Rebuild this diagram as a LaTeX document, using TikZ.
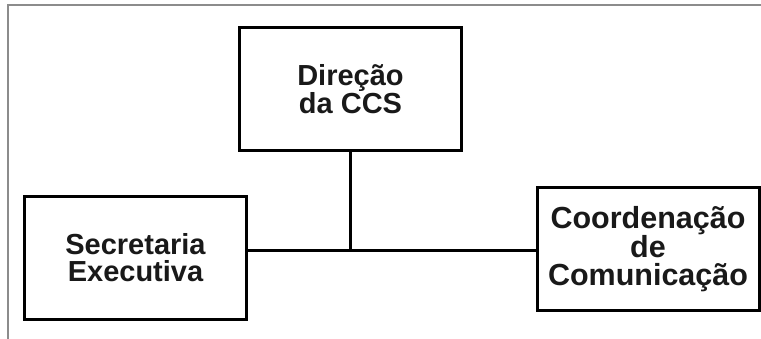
\documentclass[tikz,border=0pt]{standalone}
\usepackage{fontspec}
\setmainfont{Liberation Sans}
\usepackage{tikz}
\usetikzlibrary{positioning}

\begin{document}
\begin{tikzpicture}
		[x=1pt, y=1pt,
		unit/.style={rectangle, draw=black, line width=3pt, minimum width=222pt, minimum height=123pt,
			align=center, inner sep=0pt, text=black!90, font=\bfseries\fontsize{29}{27}\selectfont},
		link/.style={draw=black, line width=3pt},
		frame/.style={draw=black!45, line width=1.2pt}]
		\useasboundingbox (0,0) rectangle (761,339);
		\draw[frame] (8,0) -- (8,334) -- (761,334);

		\node[unit] (direcao) at (350.5,249.5) {Direção\\da CCS};
		\node[unit] (secretaria) at (135.5,81) {Secretaria\\Executiva};
		\node[unit, font=\bfseries\fontsize{30.5}{28}\selectfont] (coordenacao) at (648,90) {Coordenação\\de\\Comunicação};

		\coordinate (juncao) at (direcao.south |- 0,88);

		\draw[link] (direcao) to (juncao);
		\draw[link] (secretaria.east |- juncao) to (coordenacao.west |- juncao);
	\end{tikzpicture}
\end{document}
